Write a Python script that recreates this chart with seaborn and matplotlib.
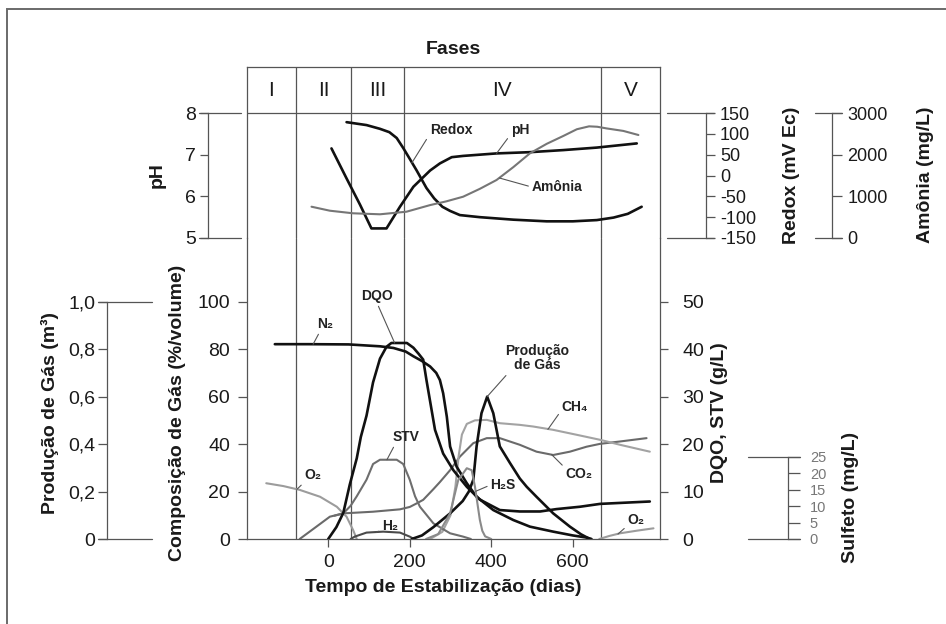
import matplotlib
matplotlib.use("Agg")
import matplotlib.pyplot as plt
import seaborn as sns
from matplotlib import font_manager
from matplotlib.patches import Rectangle

# ---------------- dados (tempo em dias) ----------------
phase_names = ["I", "II", "III", "IV", "V"]
phase_edges = [-200, -80, 57, 185, 669, 814]
x_ticks = [0, 200, 400, 600]

# lixiviado: pH, potencial redox (mV) e amônia (mg/L)
ph_dias = [8, 45, 78, 106, 143, 176, 209, 250, 274, 303, 331, 413, 495, 577, 659, 757]
ph_vals = [7.15, 6.43, 5.80, 5.23, 5.23, 5.75, 6.23, 6.62, 6.79, 6.94, 6.97, 7.03, 7.06, 7.11, 7.17, 7.27]

redox_dias = [45, 94, 127, 150, 168, 184, 200, 217, 241, 260, 280, 299, 323, 372, 413, 454, 536, 600, 659, 700, 735, 769]
redox_vals = [128, 121, 112, 104, 90, 66, 40, 12, -30, -55, -75, -85, -95, -100, -103, -106, -110, -110, -107, -101, -92, -75]

amonia_dias = [-41, 4, 61, 127, 192, 250, 290, 331, 372, 413, 454, 495, 536, 577, 610, 640, 660, 683, 724, 761]
amonia_vals = [751, 655, 593, 569, 631, 790, 880, 991, 1180, 1392, 1700, 2033, 2260, 2450, 2610, 2680, 2670, 2630, 2570, 2472]

# composição do gás (% volume)
n2_dias = [-131, -50, 50, 127, 160, 190, 209, 230, 250, 265, 274, 282, 291, 299, 315, 340, 364, 405, 454, 495, 552, 600, 634, 646]
n2_vals = [82.1, 82.1, 82.0, 81.2, 80.5, 79, 77, 75, 72.7, 70, 67, 61.4, 51.5, 39, 30.5, 23.5, 17.8, 12.2, 8, 5.2, 3.1, 1.5, 0.6, 0]

o2_ini_dias = [-152, -110, -70, -20, 21, 45, 61, 70]
o2_ini_vals = [23.5, 22.3, 20.7, 17.8, 13.6, 9.4, 3.8, 0]
o2_fim_dias = [665, 690, 716, 757, 798]
o2_fim_vals = [0, 1.3, 2.4, 3.5, 4.5]

h2_dias = [55, 65, 94, 135, 176, 200, 210]
h2_vals = [0, 1.0, 2.7, 3.1, 2.7, 1.0, 0]

co2_dias = [-70, -29, 4, 37, 110, 176, 200, 217, 233, 258, 274, 299, 323, 356, 389, 421, 470, 511, 552, 593, 634, 667, 716, 781]
co2_vals = [0, 5.2, 9.4, 10.8, 11.5, 12.5, 13.5, 15, 16.5, 21, 24, 29, 34.7, 40.4, 42.5, 42.5, 39.7, 36.8, 35.4, 36.8, 38.9, 40.1, 41.1, 42.5]

ch4_dias = [250, 280, 300, 312, 320, 328, 340, 360, 389, 421, 470, 503, 552, 610, 667, 716, 789]
ch4_vals = [0, 3, 10, 22, 35, 44, 48.5, 50, 50.2, 48.8, 48.1, 47.4, 46, 43.9, 41.8, 39.7, 36.8]

# DQO e STV (g/L)
dqo_dias = [0, 20, 37, 53, 70, 80, 94, 110, 127, 143, 155, 193, 209, 222, 233, 241, 250, 262, 282, 307, 340, 372, 421, 470, 520, 560, 618, 667, 740, 789]
dqo_vals = [0, 2.5, 5.5, 11.5, 17, 21.5, 26, 33, 38, 40.5, 41.3, 41.3, 40.3, 39, 37.8, 33.5, 29, 23, 18, 14.5, 11, 8.3, 6.1, 5.8, 5.8, 6.3, 6.8, 7.4, 7.7, 7.9]

stv_dias = [15, 37, 55, 70, 94, 110, 127, 168, 184, 200, 213, 225, 258, 299, 331, 350]
stv_vals = [4.9, 5.4, 7, 9, 12.5, 15.8, 16.7, 16.7, 15.8, 12.5, 9, 6.8, 3.3, 1.2, 0.5, 0]

# sulfeto (mg/L)
h2s_dias = [240, 270, 299, 319, 340, 352, 360, 367, 372, 378, 385, 400]
h2s_vals = [0, 1.5, 7.8, 17.9, 21.5, 20.9, 15.9, 10, 5.8, 2.5, 0.8, 0]

# produção de gás (m³)
gas_dias = [205, 230, 258, 299, 330, 345, 356, 364, 376, 390, 405, 421, 446, 470, 487, 511, 552, 593, 620, 642]
gas_vals = [0, 0.015, 0.05, 0.108, 0.16, 0.20, 0.25, 0.39, 0.53, 0.60, 0.53, 0.39, 0.32, 0.255, 0.22, 0.178, 0.108, 0.052, 0.02, 0]

ph_ticks = [5, 6, 7, 8]
redox_ticks = [-150, -100, -50, 0, 50, 100, 150]
amonia_ticks = [0, 1000, 2000, 3000]
comp_ticks = [0, 20, 40, 60, 80, 100]
dqo_ticks = [0, 10, 20, 30, 40, 50]
gas_ticks = [0, 0.2, 0.4, 0.6, 0.8, 1.0]
gas_tick_labels = ["0", "0,2", "0,4", "0,6", "0,8", "1,0"]
sulf_ticks = [0, 5, 10, 15, 20, 25]

# ---------------- estilo ----------------
sns.set_theme(style="white")
available = {f.name for f in font_manager.fontManager.ttflist}
NARROW = "Liberation Sans Narrow" if "Liberation Sans Narrow" in available else "Liberation Sans"
plt.rcParams["font.family"] = ["Liberation Sans", "DejaVu Sans"]
plt.rcParams["axes.linewidth"] = 0.9
plt.rcParams["axes.unicode_minus"] = False

FRAME = "#555555"
TXT = "#1a1a1a"
BLACK = "#111111"
W, H = 946, 624
PT = 72 / 100  # pontos por pixel


def fx(px):
    return px / W


def fy(py):
    return 1 - py / H


fig = plt.figure(figsize=(W / 100, H / 100), dpi=100)
fig.patches.append(Rectangle((fx(7), -0.05), 1.2, fy(9) + 0.05, transform=fig.transFigure,
                             fill=False, ec="#6a6a6a", lw=1.4))

BOX_L, BOX_R = 246.7, 660.0
Y_TOP, Y_MID, Y_BOT = 67.0, 238.0, 539.0
AX_W = BOX_R - BOX_L
XLIM = (-200, 814)

ax_top = fig.add_axes([fx(BOX_L), fy(Y_MID), AX_W / W, (Y_MID - Y_TOP) / H])
ax_low = fig.add_axes([fx(BOX_L), fy(Y_BOT), AX_W / W, (Y_BOT - Y_MID) / H])
for a in (ax_top, ax_low):
    a.set_xlim(*XLIM)
    a.patch.set_alpha(0)

# ---- quadro das fases ----
for s in ("left", "right", "top"):
    ax_top.spines[s].set_color(FRAME)
ax_top.spines["bottom"].set_visible(False)
ax_top.set_ylim(0, 1)
ax_top.set_yticks([])
ax_top.set_xticks([])
for e in phase_edges[1:-1]:
    ax_top.axvline(e, color=FRAME, lw=0.9)
    ax_low.axvline(e, color=FRAME, lw=0.9)
header_y = (Y_MID - 90) / (Y_MID - Y_TOP)
for name, a, b in zip(phase_names, phase_edges[:-1], phase_edges[1:]):
    ax_top.text((a + b) / 2, header_y, name, ha="center", va="center", fontsize=15,
                family=[NARROW, "Liberation Sans"], color=TXT)
ax_top.set_title("Fases", fontsize=14, fontweight="bold", pad=9.4, color=TXT)


def end_lines(ax, values, px0, px1, lw=0.9):
    for v in values:
        ax.axhline(v, xmin=(px0 - BOX_L) / AX_W, xmax=(px1 - BOX_L) / AX_W,
                   color=FRAME, lw=lw, clip_on=False)


def style_axis(ax, side, offset_px, bounds, ticks, labels=None, length=6, pad=4,
               size=14, family=None, color=TXT):
    for s in ("left", "right", "top", "bottom"):
        ax.spines[s].set_visible(False)
    sp = ax.spines[side]
    sp.set_visible(True)
    sp.set_color(FRAME)
    sp.set_position(("outward", offset_px * PT))
    sp.set_bounds(*bounds)
    if side == "left":
        ax.yaxis.tick_left()
        ax.yaxis.set_label_position("left")
    else:
        ax.yaxis.tick_right()
        ax.yaxis.set_label_position("right")
    ax.set_yticks(ticks)
    if labels is not None:
        ax.set_yticklabels(labels)
    ax.tick_params(axis="y", which="both", direction="out", length=length, width=0.9,
                   color=FRAME, pad=pad, labelsize=size, labelcolor=color)
    if family:
        for t in ax.get_yticklabels():
            t.set_family(family)


def place_ylabel(ax, text, px, py, size=14):
    ax.set_ylabel(text, fontsize=size, fontweight="bold", color=TXT)
    ax.yaxis.set_label_coords(fx(px), fy(py), transform=fig.transFigure)
    lab = ax.yaxis.label
    lab.set_rotation(90)
    lab.set_rotation_mode("default")
    lab.set_horizontalalignment("center")
    lab.set_verticalalignment("center")


# ---- pH ----
ph_px = (238 - 113) / 3.0
ax_ph = ax_top.twinx()
ax_ph.set_ylim(5, 5 + (Y_MID - Y_TOP) / ph_px)
sns.lineplot(x=ph_dias, y=ph_vals, ax=ax_ph, color=BLACK, lw=1.9, estimator=None, sort=False)
style_axis(ax_ph, "left", BOX_L - 208, (5, 8), ph_ticks, length=5.8, pad=3,
           family=[NARROW, "Liberation Sans"])
ax_ph.axhline(8, color=FRAME, lw=0.9)
end_lines(ax_ph, [5, 8], 199, 241)
place_ylabel(ax_ph, "pH", 157, 175)

# ---- Redox ----
rx_px = (238 - 113) / 300.0
ax_rx = ax_top.twinx()
ax_rx.set_ylim(-150, -150 + (Y_MID - Y_TOP) / rx_px)
sns.lineplot(x=redox_dias, y=redox_vals, ax=ax_rx, color=BLACK, lw=1.9, estimator=None, sort=False)
style_axis(ax_rx, "right", 706 - BOX_R, (-150, 150), redox_ticks, length=6.5, pad=3.5, size=13,
           family=[NARROW, "Liberation Sans"])
end_lines(ax_rx, [-150, 150], 667, 714)
place_ylabel(ax_rx, "Redox (mV Ec)", 791, 175)

# ---- Amônia ----
am_px = (238 - 113) / 3000.0
ax_am = ax_top.twinx()
ax_am.set_ylim(0, (Y_MID - Y_TOP) / am_px)
sns.lineplot(x=amonia_dias, y=amonia_vals, ax=ax_am, color="#767676", lw=1.5, estimator=None, sort=False)
style_axis(ax_am, "right", 832 - BOX_R, (0, 3000), amonia_ticks, length=7, pad=4, size=13,
           family=[NARROW, "Liberation Sans"])
end_lines(ax_am, [0, 3000], 815, 842)
place_ylabel(ax_am, "Amônia (mg/L)", 925, 175)

for a in (ax_ph, ax_rx, ax_am):
    a.set_xlim(*XLIM)
    a.set_xticks([])

# ---- composição do gás ----
comp_px = (539 - 301.7) / 100.0
ax_low.set_ylim(0, (Y_BOT - Y_MID) / comp_px)
sns.lineplot(x=co2_dias, y=co2_vals, ax=ax_low, color="#6a6a6a", lw=1.5, estimator=None, sort=False)
sns.lineplot(x=ch4_dias, y=ch4_vals, ax=ax_low, color="#a3a3a3", lw=1.5, estimator=None, sort=False)
sns.lineplot(x=o2_ini_dias, y=o2_ini_vals, ax=ax_low, color="#9c9c9c", lw=1.5, estimator=None, sort=False)
sns.lineplot(x=o2_fim_dias, y=o2_fim_vals, ax=ax_low, color="#9c9c9c", lw=1.5, estimator=None, sort=False)
sns.lineplot(x=h2_dias, y=h2_vals, ax=ax_low, color="#4a4a4a", lw=1.5, estimator=None, sort=False)
sns.lineplot(x=n2_dias, y=n2_vals, ax=ax_low, color=BLACK, lw=1.9, estimator=None, sort=False)
for s in ("top", "right"):
    ax_low.spines[s].set_visible(False)
for s in ("left", "bottom"):
    ax_low.spines[s].set_color(FRAME)
ax_low.set_yticks(comp_ticks)
ax_low.tick_params(axis="y", left=True, direction="out", length=6.5, width=0.9, color=FRAME,
                   pad=5.5, labelsize=14, labelcolor=TXT)
ax_low.set_xticks(x_ticks)
ax_low.tick_params(axis="x", bottom=True, direction="out", length=5.8, width=0.9, color=FRAME,
                   pad=5, labelsize=14, labelcolor=TXT)
place_ylabel(ax_low, "Composição de Gás (%/volume)", 177, 413)
ax_low.set_xlabel("Tempo de Estabilização (dias)", fontsize=14, fontweight="bold", color=TXT)
ax_low.xaxis.set_label_coords(fx(443), fy(588), transform=fig.transFigure)
ax_low.xaxis.label.set_verticalalignment("center")

# ---- DQO / STV ----
ax_dq = ax_low.twinx()
ax_dq.set_ylim(0, (Y_BOT - Y_MID) / (comp_px * 2))
sns.lineplot(x=stv_dias, y=stv_vals, ax=ax_dq, color="#6e6e6e", lw=1.5, estimator=None, sort=False)
sns.lineplot(x=dqo_dias, y=dqo_vals, ax=ax_dq, color=BLACK, lw=1.9, estimator=None, sort=False)
style_axis(ax_dq, "right", 0, (0, (Y_BOT - Y_MID) / (comp_px * 2)), dqo_ticks, length=6, pad=10)
place_ylabel(ax_dq, "DQO, STV (g/L)", 720, 413)

# ---- Produção de gás ----
ax_gas = ax_low.twinx()
ax_gas.set_ylim(0, (Y_BOT - Y_MID) / (comp_px * 100))
sns.lineplot(x=gas_dias, y=gas_vals, ax=ax_gas, color=BLACK, lw=1.9, estimator=None, sort=False)
style_axis(ax_gas, "left", BOX_L - 107.3, (0, 1), gas_ticks, gas_tick_labels, length=6.5, pad=2)
end_lines(ax_gas, [0, 1.0], 98, 152)
place_ylabel(ax_gas, "Produção de Gás (m³)", 50, 413)

# ---- Sulfeto ----
sf_px = (539 - 456.7) / 25.0
ax_sf = ax_low.twinx()
ax_sf.set_ylim(0, (Y_BOT - Y_MID) / sf_px)
sns.lineplot(x=h2s_dias, y=h2s_vals, ax=ax_sf, color="#8a8a8a", lw=1.5, estimator=None, sort=False)
style_axis(ax_sf, "right", 788.3 - BOX_R, (0, 25), sulf_ticks, length=8.5, pad=7, size=10.5,
           family=[NARROW, "Liberation Sans"], color="#777777")
end_lines(ax_sf, [0, 25], 748, 800)
place_ylabel(ax_sf, "Sulfeto (mg/L)", 850, 497)

for a in (ax_dq, ax_gas, ax_sf):
    a.set_xlim(*XLIM)
    a.set_xlabel("")
    a.tick_params(axis="x", bottom=False, labelbottom=False)
ax_low.set_xticks(x_ticks)

# ---- rótulos das curvas ----
NOTE = dict(fontsize=10, fontweight="bold", color="#222222",
            family=["Liberation Sans", "DejaVu Sans"])


def note(ax, text, xy, text_px, relpos=(0, 0), **kw):
    ax.annotate(text, xy=xy, xycoords="data", xytext=(text_px[0], H - text_px[1]),
                textcoords="figure pixels", ha="center", va="center",
                arrowprops=dict(arrowstyle="-", color="#555555", lw=0.8, relpos=relpos,
                                shrinkA=0, shrinkB=0),
                **{**NOTE, **kw})


note(ax_rx, "Redox", (205, 30), (451, 130), relpos=(0, 0.2))
note(ax_ph, "pH", (413, 7.03), (520, 130), relpos=(0, 0.2))
note(ax_am, "Amônia", (420, 1440), (557, 187), relpos=(0, 0.5))
note(ax_low, "N₂", (-37, 82.1), (325, 324), relpos=(0.2, 0))
note(ax_dq, "DQO", (163, 41.3), (377, 296), relpos=(0.5, 0))
note(ax_dq, "STV", (144, 16.7), (406, 437), relpos=(0.1, 0))
note(ax_low, "O₂", (-77, 20.9), (313, 475), relpos=(0, 0))
note(ax_low, "H₂", (118, 2.9), (390, 526), relpos=(0, 0.2))
note(ax_gas, "Produção\nde Gás", (390, 0.60), (537, 358), relpos=(0.1, 0.1), linespacing=1.05)
note(ax_low, "CH₄", (539, 46.2), (575, 407), relpos=(0, 0.3))
note(ax_low, "CO₂", (548, 35.6), (579, 474), relpos=(0, 0.9))
note(ax_sf, "H₂S", (362, 14.5), (503, 485), relpos=(0, 0.5))
note(ax_low, "O₂", (711, 2.1), (636, 520), relpos=(0, 0.1))

fig.savefig("out.png", dpi=100)
